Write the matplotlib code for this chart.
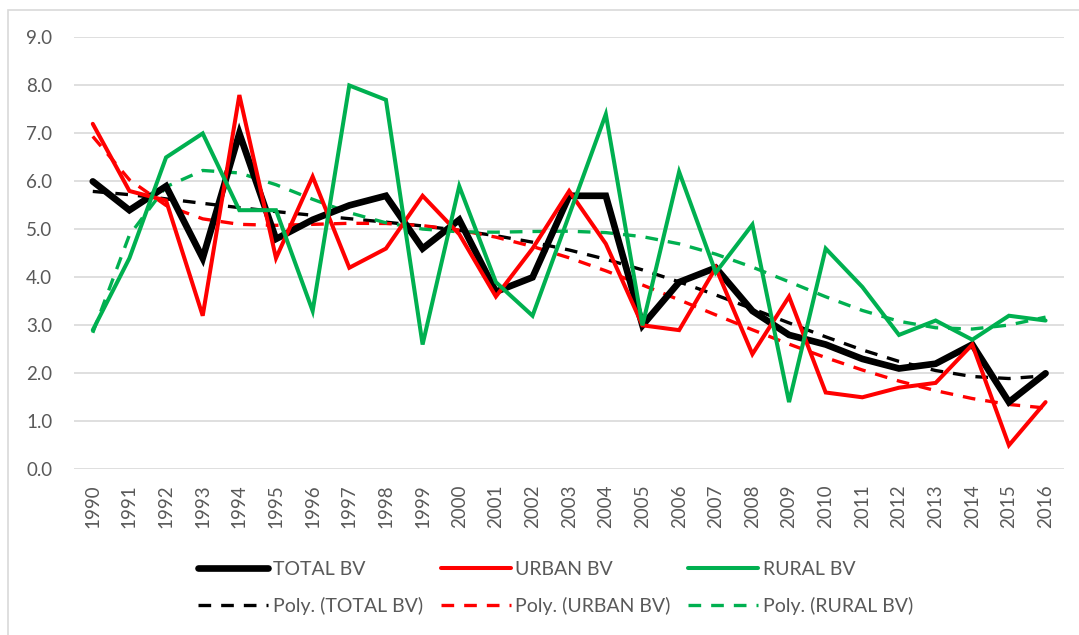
import matplotlib
matplotlib.use("Agg")
import matplotlib.pyplot as plt
from matplotlib.patches import Rectangle
import numpy as np

# Values
years = list(range(1990, 2017))
total_bv = [6.0, 5.4, 5.9, 4.4, 7.0, 4.8, 5.2, 5.5, 5.7, 4.6, 5.2, 3.7, 4.0, 5.7,
            5.7, 3.0, 3.9, 4.2, 3.3, 2.8, 2.6, 2.3, 2.1, 2.2, 2.6, 1.4, 2.0]
urban_bv = [7.2, 5.8, 5.6, 3.2, 7.8, 4.4, 6.1, 4.2, 4.6, 5.7, 4.9, 3.6, 4.6, 5.8,
            4.7, 3.0, 2.9, 4.2, 2.4, 3.6, 1.6, 1.5, 1.7, 1.8, 2.6, 0.5, 1.4]
rural_bv = [2.9, 4.4, 6.5, 7.0, 5.4, 5.4, 3.3, 8.0, 7.7, 2.6, 5.9, 3.9, 3.2, 5.3,
            7.4, 3.0, 6.2, 4.1, 5.1, 1.4, 4.6, 3.8, 2.8, 3.1, 2.7, 3.2, 3.1]
labels = ["TOTAL BV", "URBAN BV", "RURAL BV"]
colors = ["#000000", "#FF0000", "#00B050"]

FONT = "Lato"
GREY = "#595959"
plt.rcParams["font.family"] = [FONT, "DejaVu Sans"]

fig = plt.figure(figsize=(10.79, 6.35), dpi=100)
ax = fig.add_axes([0.069, 0.261, 0.917, 0.680])

# chart area border (Excel style)
fig.patches.append(Rectangle((8 / 1079, -0.01), 1.0, 1 - 10 / 635 + 0.01,
                             transform=fig.transFigure, fill=False,
                             edgecolor="#D9D9D9", linewidth=1.2))

x = np.arange(len(years))
series = [total_bv, urban_bv, rural_bv]
widths = [4.8, 2.9, 2.9]

handles = []
for vals, lab, col, lw in zip(series, labels, colors, widths):
    h, = ax.plot(x, vals, color=col, lw=lw, label=lab,
                 solid_joinstyle="miter", solid_capstyle="round", zorder=3)
    # Excel "Poly." trendline, fitted on category positions 1..n
    coef = np.polyfit(x + 1, vals, 6)
    trend = np.polyval(coef, x + 1)
    t, = ax.plot(x, trend, color=col, lw=2.4, ls=(0, (3.8, 3.0)),
                 label=f"Poly. ({lab})", zorder=2)
    handles += [h, t]

ax.set_xlim(-0.5, len(years) - 0.5)
ax.set_ylim(0, 9)
ax.set_yticks(np.arange(0, 9.5, 1.0))
ax.set_yticklabels([f"{v:.1f}" for v in np.arange(0, 9.5, 1.0)])
ax.set_xticks(x)
ax.set_xticklabels([str(y) for y in years], rotation=90)
ax.tick_params(axis="both", length=0, labelsize=13.5, colors=GREY)
ax.tick_params(axis="y", pad=16)
ax.tick_params(axis="x", pad=11)
ax.grid(axis="y", color="#D9D9D9", lw=1.2)
ax.set_axisbelow(True)
for s in ax.spines.values():
    s.set_visible(False)

leg = fig.legend(handles=handles, ncol=3, loc="center",
                 bbox_to_anchor=(0.515, 0.074), frameon=False,
                 fontsize=14, handlelength=3.6, handletextpad=0.25,
                 columnspacing=0.9, labelspacing=1.0)
for txt in leg.get_texts():
    txt.set_color(GREY)

fig.savefig("out.png", dpi=100)
